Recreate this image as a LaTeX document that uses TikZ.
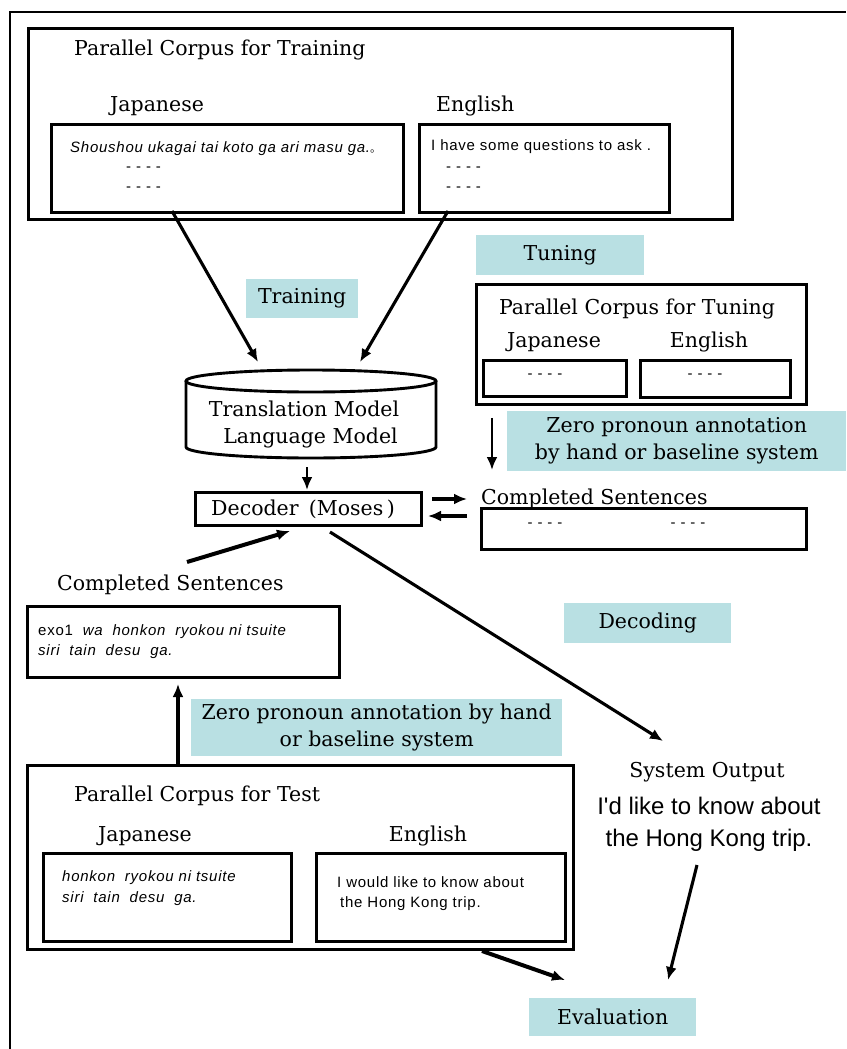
\documentclass[tikz,border=0pt]{standalone}
\usepackage{fontspec}
\setmainfont{DejaVu Serif}
\newfontfamily\arial{Liberation Sans}[LetterSpace=5]
\newfontfamily\arialbig{Liberation Sans}
\newfontfamily\cjk{Noto Sans CJK JP}
\usetikzlibrary{arrows.meta}
\definecolor{lab}{RGB}{185,224,227}
\tikzset{
  wh/.style 2 args={minimum width=#1pt,minimum height=#2pt,anchor=north west,inner sep=0pt},
  box/.style={draw,line width=2.9pt},
  lbl/.style={fill=lab,align=center,font=\fontsize{20.5}{27}\selectfont},
  ser/.style={font=\fontsize{20.5}{24}\selectfont,inner sep=0pt},
  sm/.style={font=\arial\fontsize{15}{20}\selectfont,inner sep=0pt},
  big/.style={font=\arialbig\fontsize{24}{32}\selectfont,inner sep=0pt,align=center},
  arr/.style={line width=3.1pt,-{Latex[length=13pt,width=11pt]}}
}
\begin{document}
\begin{tikzpicture}[x=1pt,y=-1pt]
\useasboundingbox (0,0) rectangle (846,1049);
\draw[line width=2.5pt] (10,1049) -- (10,12) -- (846,12);

% ---------- training corpus ----------
\node[box,wh={704}{191}] (train) at (27,27) {};
\node[ser,anchor=base west] (ttrain) at (74,56) {Parallel Corpus for Training};
\node[ser,anchor=base west] (jtrl) at (110,111) {Japanese};
\node[ser,anchor=base west] (etrl) at (436,111) {English};
\node[box,wh={352}{88}] (jtr) at (50,123) {};
\node[box,wh={250}{88}] (etr) at (418,123) {};
\node[sm,anchor=base west] (jtrt) at (70,152) {\itshape Shoushou ukagai tai koto ga ari masu ga.{\cjk\fontsize{11}{11}\selectfont 。}};
\node[sm,anchor=base west] (jtrd1) at (126,171) {- - - -};
\node[sm,anchor=base west] (jtrd2) at (126,191) {- - - -};
\node[sm,anchor=base west] (etrt) at (431,150) {I have some questions to ask .};
\node[sm,anchor=base west] (etrd1) at (446,171) {- - - -};
\node[sm,anchor=base west] (etrd2) at (446,191) {- - - -};

% ---------- labels ----------
\node[lbl,wh={112}{39}] (ltrain) at (246,279) {Training};
\node[lbl,wh={168}{40}] (ltune) at (476,235) {Tuning};
\node[lbl,wh={339}{60}] (lzero1) at (507,411) {Zero pronoun annotation\\by hand or baseline system};
\node[lbl,wh={167}{40}] (ldec) at (564,603) {Decoding};
\node[lbl,wh={371}{57}] (lzero2) at (191,699) {Zero pronoun annotation by hand\\or baseline system};
\node[lbl,wh={167}{38}] (leval) at (529,998) {Evaluation};

% ---------- tuning corpus ----------
\node[box,wh={330}{120}] (tune) at (475,283) {};
\node[ser,anchor=base] (ttune) at (637,314) {Parallel Corpus for Tuning};
\node[ser,anchor=base] (jtul) at (554,347) {Japanese};
\node[ser,anchor=base] (etul) at (709,347) {English};
\node[box,wh={143}{36}] (jtu) at (482,359) {};
\node[box,wh={150}{37}] (etu) at (639,359) {};
\node[sm,anchor=base] (jtud) at (545,378) {- - - -};
\node[sm,anchor=base] (etud) at (705,378) {- - - -};

% ---------- models ----------
\draw[line width=2.9pt] (186,381) -- (186,447) arc[start angle=180,end angle=0,x radius=125,y radius=11] -- (436,381);
\draw[line width=2.9pt] (311,381) ellipse[x radius=125,y radius=11];
\node[wh={250}{88}] (db) at (186,370) {};
\node[ser,align=center,font=\fontsize{20.5}{27}\selectfont] (dbt) at (304,424) {Translation Model\\\ \ Language Model};

\node[box,wh={226}{33}] (dec) at (194,491) {};
\node[ser] (dect) at (303,509) {Decoder\enspace(Moses\,)};

% ---------- completed sentences (right) ----------
\node[ser,anchor=base west] (compRl) at (481,504) {Completed Sentences};
\node[box,wh={325}{41}] (compR) at (480,507) {};
\node[sm,anchor=base] (compRd1) at (545,527) {- - - -};
\node[sm,anchor=base] (compRd2) at (688,527) {- - - -};

% ---------- completed sentences (left) ----------
\node[ser,anchor=base west] (compLl) at (57,590) {Completed Sentences};
\node[box,wh={312}{71}] (compL) at (26,605) {};
\node[sm,anchor=base west] (compLt1) at (38,635) {exo1\ \ \textit{wa\ \ honkon\ \ ryokou ni tsuite}};
\node[sm,anchor=base west] (compLt2) at (38,655) {\itshape siri\ \ tain\ \ desu\ \ ga.};

% ---------- test corpus ----------
\node[box,wh={546}{184}] (test) at (26,764) {};
\node[ser,anchor=base west] (ttest) at (74,801) {Parallel Corpus for Test};
\node[ser,anchor=base] (jtel) at (145,841) {Japanese};
\node[ser,anchor=base] (etel) at (428,841) {English};
\node[box,wh={248}{88}] (jte) at (42,852) {};
\node[box,wh={249}{88}] (ete) at (315,852) {};
\node[sm,anchor=base west] (jtet1) at (62,881) {\itshape honkon\ \ ryokou ni tsuite};
\node[sm,anchor=base west] (jtet2) at (62,902) {\itshape siri\ \ tain\ \ desu\ \ ga.};
\node[sm,anchor=base west] (etet1) at (337,887) {I would like to know about};
\node[sm,anchor=base west] (etet2) at (340,907) {the Hong Kong trip.};

% ---------- system output ----------
\node[ser,anchor=base] (sysl) at (707,777) {System Output};
\node[big] (syst) at (709,824) {I'd like to know about\\the Hong Kong trip.};

% ---------- arrow end points ----------
\coordinate (a1s) at (172,211); \coordinate (a1e) at (258,362);
\coordinate (a2s) at (448,211); \coordinate (a2e) at (360,362);
\coordinate (a3e) at (492,470);
\coordinate (a4e) at (307,490);
\coordinate (a5s) at (432,499); \coordinate (a5e) at (467,499);
\coordinate (a6s) at (467,516); \coordinate (a6e) at (428,516);
\coordinate (a7s) at (187,562); \coordinate (a7e) at (290,531);
\coordinate (a8s) at (330,532); \coordinate (a8e) at (663,741);
\coordinate (a9e) at (178,684);
\coordinate (a10s) at (697,865); \coordinate (a10e) at (668,980);
\coordinate (a11s) at (482,951); \coordinate (a11e) at (565,980);

\draw[arr] (a1s) -- (a1e);
\draw[arr] (a2s) -- (a2e);
\draw[arr,line width=2.7pt] (492,0 |- tune.south) ++(0,12) -- (a3e);
\draw[arr,line width=2.7pt] (307,0 |- db.south) ++(0,9) -- (a4e);
\draw[arr,line width=4pt] (a5s) -- (a5e);
\draw[arr,line width=4pt] (a6s) -- (a6e);
\draw[arr,line width=4pt] (a7s) -- (a7e);
\draw[arr] (a8s) -- (a8e);
\draw[arr,line width=3.6pt] (178,0 |- test.north) -- (a9e);
\draw[arr] (a10s) -- (a10e);
\draw[arr,line width=4pt] (a11s) -- (a11e);
\end{tikzpicture}
\end{document}
